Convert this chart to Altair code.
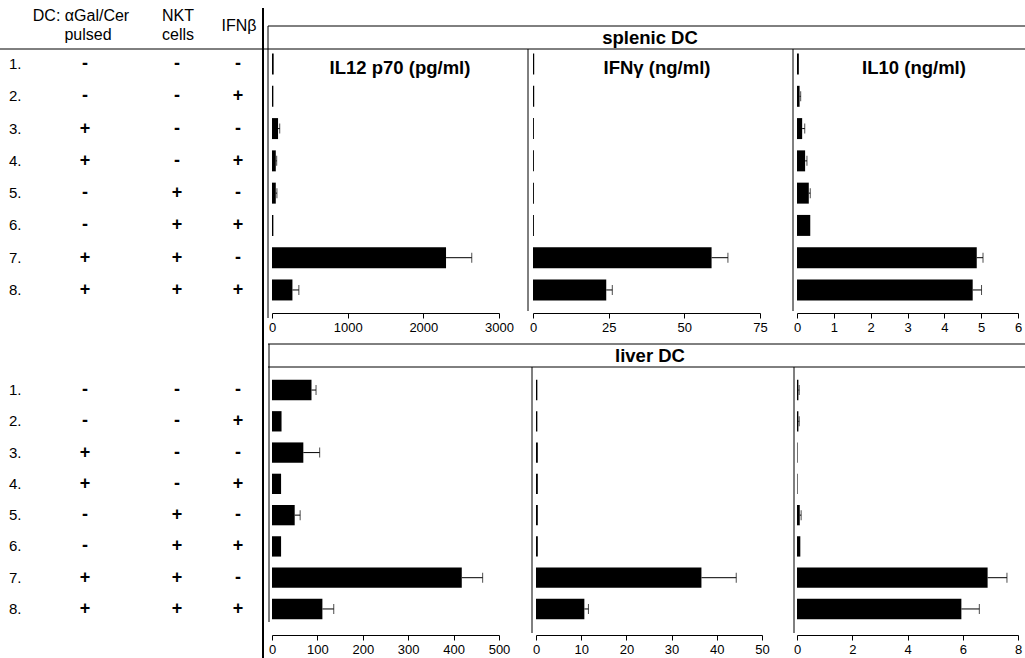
import altair as alt
import pandas as pd

FONT = "Liberation Sans"

# ---- treatment table -------------------------------------------------------
rows = ["1.", "2.", "3.", "4.", "5.", "6.", "7.", "8."]
dc_pulsed = ["-", "-", "+", "+", "-", "-", "+", "+"]
nkt_cells = ["-", "-", "-", "-", "+", "+", "+", "+"]
ifn_beta = ["-", "+", "-", "+", "-", "+", "-", "+"]

# ---- splenic DC ------------------------------------------------------------
spleen_il12 = [22, 18, 80, 50, 50, 18, 2300, 270]
spleen_il12_err = [0, 0, 22, 12, 15, 0, 340, 85]
spleen_ifng = [0.4, 0.4, 0.3, 0.3, 0.3, 0.3, 59.0, 24.2]
spleen_ifng_err = [0, 0, 0, 0, 0, 0, 5.4, 2.0]
spleen_il10 = [0.05, 0.07, 0.14, 0.22, 0.32, 0.36, 4.88, 4.77]
spleen_il10_err = [0, 0.03, 0.07, 0.05, 0.04, 0, 0.17, 0.24]

# ---- liver DC --------------------------------------------------------------
liver_il12 = [87, 21, 69, 20, 50, 20, 418, 111]
liver_il12_err = [10, 0, 36, 0, 12, 0, 46, 25]
liver_ifng = [0.3, 0.3, 0.4, 0.4, 0.4, 0.4, 36.6, 10.7]
liver_ifng_err = [0, 0, 0, 0, 0, 0, 7.7, 0.9]
liver_il10 = [0.05, 0.05, 0.02, 0.02, 0.1, 0.12, 6.9, 5.95]
liver_il10_err = [0.03, 0.03, 0, 0, 0.05, 0, 0.7, 0.65]

# ---- axis ticks ------------------------------------------------------------
spleen_il12_ticks = [0, 1000, 2000, 3000]
spleen_ifng_ticks = [0, 25, 50, 75]
spleen_il10_ticks = [0, 1, 2, 3, 4, 5, 6]
liver_il12_ticks = [0, 100, 200, 300, 400, 500]
liver_ifng_ticks = [0, 10, 20, 30, 40, 50]
liver_il10_ticks = [0, 2, 4, 6, 8]

H = 658
TOP_ROWS = [47.9, 306.1]
BOTTOM_ROWS = [374.4, 624.6]


def row_scale(yrange):
    return alt.Scale(domain=rows, range=yrange, paddingInner=0.35, paddingOuter=0.175)


def panel(values, errors, ticks, xrange, yrange, axis_y):
    df = pd.DataFrame({"row": rows, "value": values, "err": errors})
    df["upper"] = df["value"] + df["err"]
    xs = alt.Scale(domain=[ticks[0], ticks[-1]], range=xrange, nice=False, zero=True)
    ys = row_scale(yrange)
    # the same axis spec on every layer so the shared x axis merges cleanly
    axis = alt.Axis(
        values=ticks, format="d", orient="bottom", offset=axis_y - H, title=None,
        grid=False, domainColor="black", tickColor="black", labelColor="black",
        labelFont=FONT, labelFontSize=13, tickSize=5, labelPadding=3,
        labelFlush=False, labelOverlap=False, domainWidth=1, tickWidth=1,
    )
    y = alt.Y("row:N", scale=ys, axis=None, sort=rows)
    base = alt.Chart(df)
    bars = base.mark_bar(color="black").encode(
        x=alt.X("value:Q", scale=xs, axis=axis), y=y
    )
    errs = base.transform_filter("datum.err > 0")
    whisker = errs.mark_rule(color="black", strokeWidth=1).encode(
        x=alt.X("value:Q", scale=xs, axis=axis), x2="upper:Q", y=y
    )
    cap = errs.mark_tick(color="black", thickness=1, size=10).encode(
        x=alt.X("upper:Q", scale=xs, axis=axis), y=y
    )
    return alt.layer(bars, whisker, cap)


def table(yrange):
    df = pd.DataFrame({"row": rows, "dc": dc_pulsed, "nkt": nkt_cells, "ifnb": ifn_beta})
    y = alt.Y("row:N", scale=row_scale(yrange), axis=None, sort=rows)
    base = alt.Chart(df).encode(y=y)
    labels = base.mark_text(align="left", font=FONT, fontSize=15, color="black").encode(
        x=alt.value(9), text="row:N"
    )
    cols = []
    for field, xpos in (("dc", 85), ("nkt", 177), ("ifnb", 238)):
        cols.append(
            base.mark_text(font=FONT, fontSize=18, fontWeight="bold", color="black").encode(
                x=alt.value(xpos), text=f"{field}:N"
            )
        )
    return alt.layer(labels, *cols)


one = alt.Data(values=[{}])


def label(text, x, y, size=16, weight="normal"):
    return alt.Chart(one).mark_text(
        text=text, font=FONT, fontSize=size, fontWeight=weight, color="black"
    ).encode(x=alt.value(x), y=alt.value(y))


def hline(y, x0, x1, w=1):
    return alt.Chart(one).mark_rule(color="black", strokeWidth=w).encode(
        y=alt.value(y), x=alt.value(x0), x2=alt.value(x1)
    )


def vline(x, y0, y1, w=1):
    return alt.Chart(one).mark_rule(color="black", strokeWidth=w).encode(
        x=alt.value(x), y=alt.value(y0), y2=alt.value(y1)
    )


layers = [
    # table headers and rows
    label("DC: \u03b1Gal/Cer", 81, 16),
    label("pulsed", 88, 35),
    label("NKT", 178, 16),
    label("cells", 178, 35),
    label("IFN\u03b2", 239, 26),
    table(TOP_ROWS),
    table(BOTTOM_ROWS),
    # splenic DC
    panel(spleen_il12, spleen_il12_err, spleen_il12_ticks, [272, 499], TOP_ROWS, 313),
    panel(spleen_ifng, spleen_ifng_err, spleen_ifng_ticks, [533, 760], TOP_ROWS, 313),
    panel(spleen_il10, spleen_il10_err, spleen_il10_ticks, [797, 1018], TOP_ROWS, 313),
    # liver DC
    panel(liver_il12, liver_il12_err, liver_il12_ticks, [272, 499], BOTTOM_ROWS, 635),
    panel(liver_ifng, liver_ifng_err, liver_ifng_ticks, [536, 762], BOTTOM_ROWS, 635),
    panel(liver_il10, liver_il10_err, liver_il10_ticks, [797, 1018], BOTTOM_ROWS, 635),
    # section headers and panel titles
    label("splenic DC", 650, 38, 18.5, "bold"),
    label("liver DC", 650, 356, 18.5, "bold"),
    label("IL12 p70 (pg/ml)", 400, 68, 18.5, "bold"),
    label("IFN\u03b3 (ng/ml)", 657, 68, 18.5, "bold"),
    label("IL10 (ng/ml)", 914, 68, 18.5, "bold"),
    # frame lines
    vline(263, 8, 658, 2),
    hline(49, 0, 1025),
    hline(26, 268, 1025),
    vline(268, 26, 318),
    vline(528, 49, 311),
    vline(793, 49, 311),
    hline(344, 268, 1025),
    hline(367, 268, 1025),
    vline(269, 344, 622),
    vline(532, 367, 633),
    vline(794, 367, 633),
]

chart = (
    alt.layer(*layers)
    .resolve_scale(x="independent", y="independent")
    .properties(width=1025, height=658, autosize=alt.AutoSizeParams(type="none"), padding=0)
    .configure_view(stroke=None)
)

chart.save("out.html", embed_options={"renderer": "svg", "actions": False})
